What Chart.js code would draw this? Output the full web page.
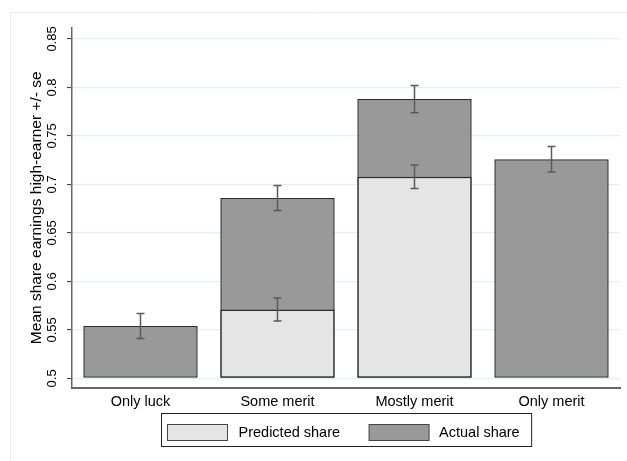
<!DOCTYPE html>
<html>
<head>
<meta charset="utf-8">
<script src="https://cdn.jsdelivr.net/npm/chart.js@4/dist/chart.umd.min.js"></script>
<style>
  html, body { margin: 0; padding: 0; background: #fff; }
  #wrap { width: 627px; height: 461px; }
</style>
</head>
<body>
<div id="wrap"><canvas id="myChart" width="627" height="461"></canvas></div>
<script>
const FONT = "'Liberation Sans', Arial, sans-serif";

const categories = ["Only luck", "Some merit", "Mostly merit", "Only merit"];
const actualShare = [0.554, 0.686, 0.788, 0.726];
const actualSe = [0.0128, 0.0128, 0.014, 0.0131];
const predictedShare = [null, 0.571, 0.708, null];
const predictedSe = [null, 0.0118, 0.0121, null];
const yTicks = [0.5, 0.55, 0.6, 0.65, 0.7, 0.75, 0.8, 0.85];
const BASE = 0.5;

const PREDICTED_COLOR = "#e5e5e5";
const ACTUAL_COLOR = "#999999";
const EDGE_COLOR = "#2e2e2e";

// faint frame + y tick labels + error bars + boxed legend
const extras = {
	id: "extras",
	beforeDraw(chart) {
		const c = chart.ctx;
		c.save();
		c.strokeStyle = "#e6ecee";
		c.lineWidth = 1;
		c.beginPath();
		c.moveTo(10.5, chart.height);
		c.lineTo(10.5, 12.5);
		c.lineTo(chart.width, 12.5);
		c.stroke();
		c.restore();
	},
	afterDatasetsDraw(chart) {
		const c = chart.ctx;
		const y = chart.scales.y;
		const errs = [predictedSe, actualSe];
		c.save();
		c.strokeStyle = "#5a5a5a";
		c.lineWidth = 1.5;
		chart.data.datasets.forEach((ds, i) => {
			const meta = chart.getDatasetMeta(i);
			ds.data.forEach((v, j) => {
				if (v == null) return;
				const x = meta.data[j].x;
				const top = y.getPixelForValue(v + errs[i][j]);
				const bot = y.getPixelForValue(v - errs[i][j]);
				c.beginPath();
				c.moveTo(x, top);
				c.lineTo(x, bot);
				c.moveTo(x - 4, top);
				c.lineTo(x + 4, top);
				c.moveTo(x - 4, bot);
				c.lineTo(x + 4, bot);
				c.stroke();
			});
		});
		c.restore();
	},
	afterDraw(chart) {
		const c = chart.ctx;
		const area = chart.chartArea;
		const y = chart.scales.y;
		c.save();
		// y tick labels, rotated like the original
		c.fillStyle = "#000";
		c.font = "13px " + FONT;
		c.textAlign = "center";
		c.textBaseline = "middle";
		yTicks.forEach((v) => {
			c.save();
			c.translate(area.left - 19.5, y.getPixelForValue(v));
			c.rotate(-Math.PI / 2);
			c.fillText(String(v), 0, 0);
			c.restore();
		});

		// legend
		c.font = "14.5px " + FONT;
		const ds = chart.data.datasets;
		const w1 = c.measureText(ds[0].label).width;
		const w2 = c.measureText(ds[1].label).width;
		const total = 6 + 60 + 11 + w1 + 29 + 60 + 10 + w2 + 12;
		const left = Math.round((area.left + area.right) / 2 - total / 2) + 0.5;
		const top = chart.height - 48 + 0.5;
		c.strokeStyle = "#222";
		c.lineWidth = 1;
		c.strokeRect(left, top, total, 33);
		let x = left + 6;
		const sy = top + 11;
		[[ds[0], w1, 11], [ds[1], w2, 10]].forEach(([d, w, gap]) => {
			c.fillStyle = d.backgroundColor;
			c.fillRect(x, sy, 60, 16);
			c.strokeStyle = "#444";
			c.strokeRect(x, sy, 60, 16);
			c.fillStyle = "#000";
			c.textAlign = "left";
			c.fillText(d.label, x + 60 + gap, sy + 8.5);
			x += 60 + gap + w + 29;
		});
		c.restore();
	},
};

const ctx = document.getElementById("myChart");

const myChart = new Chart(ctx, {
	type: "bar",
	data: {
		labels: categories,
		datasets: [
			{
				label: "Predicted share",
				data: predictedShare,
				backgroundColor: PREDICTED_COLOR,
			},
			{
				label: "Actual share",
				data: actualShare,
				backgroundColor: ACTUAL_COLOR,
			},
		],
	},
	options: {
		responsive: false,
		animation: false,
		layout: {
			padding: { left: 12, right: 7, top: 28, bottom: 44 },
		},
		datasets: {
			bar: {
				base: BASE,
				grouped: false,
				categoryPercentage: 1,
				barPercentage: 0.835,
				borderColor: EDGE_COLOR,
				borderWidth: 1.5,
				borderSkipped: false,
			},
		},
		plugins: {
			legend: { display: false },
			tooltip: { enabled: false },
		},
		scales: {
			x: {
				grid: { display: false, drawTicks: false },
				border: { display: true, color: "#666", width: 2 },
				ticks: {
					color: "#000",
					font: { family: FONT, size: 14.5 },
					padding: 6,
				},
			},
			y: {
				min: 0.4905,
				max: 0.8613,
				afterBuildTicks: (scale) => {
					scale.ticks = yTicks.map((v) => ({ value: v }));
				},
				grid: {
					color: "#e6eef0",
					lineWidth: 1.2,
					tickLength: 5,
					tickColor: "#333",
					tickWidth: 1,
				},
				border: { display: true, color: "#666", width: 1.5 },
				ticks: { display: false },
				title: {
					display: true,
					text: "Mean share earnings high-earner +/- se",
					color: "#000",
					font: { family: FONT, size: 15.5, lineHeight: 1.2 },
					padding: { top: 15.7, bottom: 20.7 },
				},
			},
		},
	},
	plugins: [extras],
});
</script>
</body>
</html>
